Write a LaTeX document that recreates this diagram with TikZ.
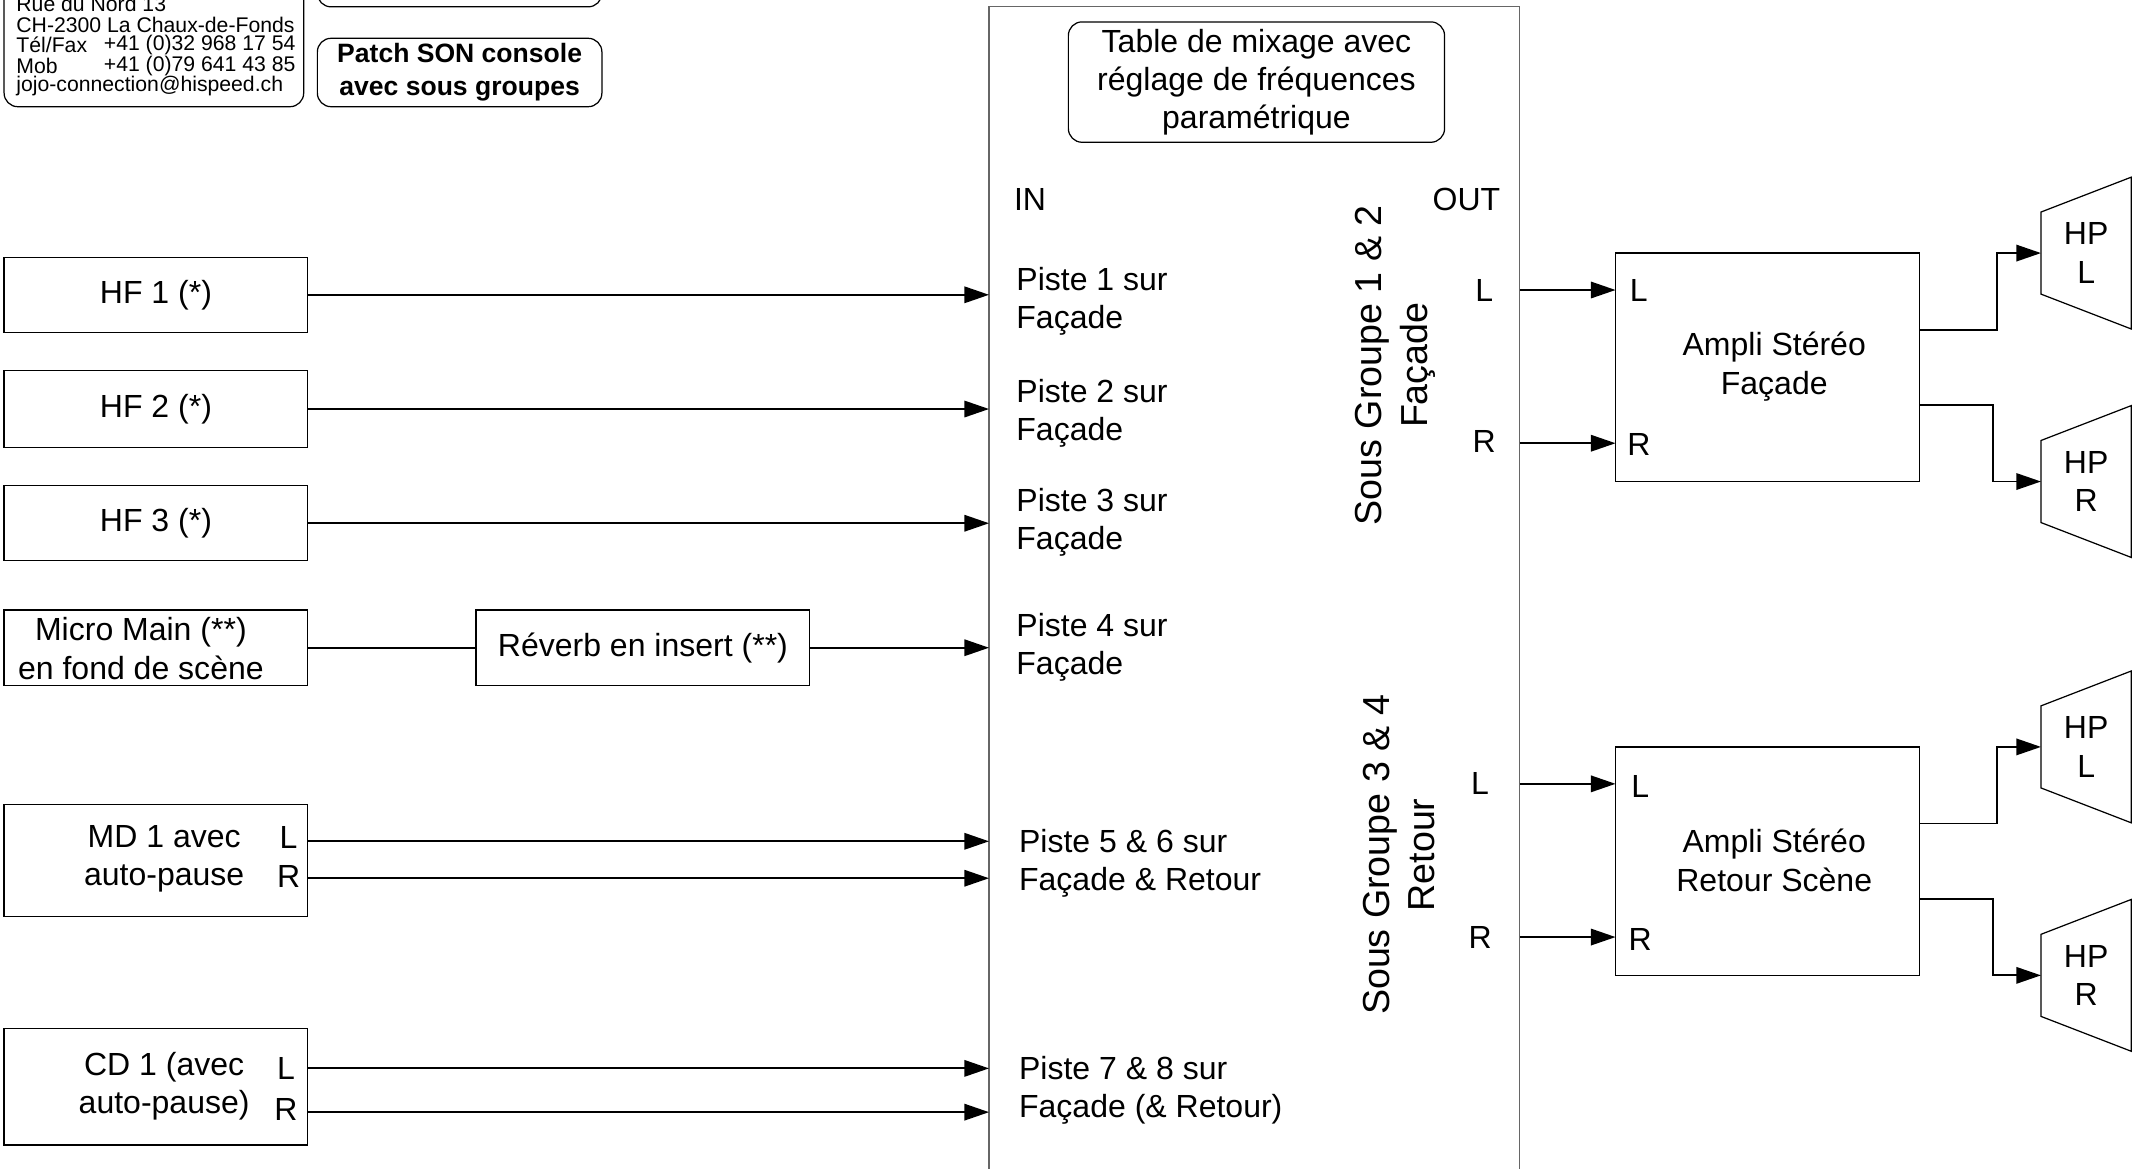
\documentclass[tikz,border=0pt]{standalone}
\usepackage{fontspec}
\setmainfont{Liberation Sans}
\usetikzlibrary{arrows.meta}
\begin{document}
\begin{tikzpicture}[x=1pt,y=-1pt,
  every node/.style={inner sep=0pt, outer sep=0pt},
  txt/.style={font=\fontsize{23.4}{28}\selectfont, align=center},
  ltxt/.style={font=\fontsize{23.4}{28}\selectfont, align=left, anchor=west},
  rtxt/.style={font=\fontsize{27.5}{33}\selectfont, align=center, rotate=90},
  small/.style={font=\fontsize{15.5}{15}\selectfont},
  srcbox/.style={draw, line width=0.9pt, minimum width=222pt},
  rbox/.style={draw, line width=0.9pt, rounded corners=10pt},
  ln/.style={line width=1.4pt},
  arr/.style={line width=1.4pt, -{Triangle[length=18pt,width=12pt]}},
  spk/.style={draw, line width=0.9pt}]
\useasboundingbox (0,0) rectangle (1560,854);
\clip (0,0) rectangle (1560,854);

% header boxes
\draw[rbox] (3,-60) rectangle (222,78);
\node[small, anchor=west] (a1) at (12,3) {Rue du Nord 13};
\node[small, anchor=west] (a2) at (12,18) {CH-2300 La Chaux-de-Fonds};
\node[small, anchor=west] (a3) at (12,33) {Tél/Fax};
\node[small, anchor=east] (a3b) at (216,33) {+41 (0)32 968 17 54};
\node[small, anchor=west] (a4) at (12,48) {Mob};
\node[small, anchor=east] (a4b) at (216,48) {+41 (0)79 641 43 85};
\node[small, anchor=west] (a5) at (12,63) {jojo-connection@hispeed.ch};
\draw[rbox] (232,-40) rectangle (440,5);
\node[rbox, minimum width=208pt, minimum height=50pt, font=\bfseries\fontsize{19.4}{24}\selectfont, align=center] (patch) at (336,53) {Patch SON console\\avec sous groupes};

% console
\draw[line width=0.9pt, draw=black!60] (723,5) rectangle (1111,900);
\coordinate (cin) at (723,0);
\coordinate (cout) at (1111,0);
\node[rbox, minimum width=275pt, minimum height=88pt, txt] (title) at (918.5,60) {Table de mixage avec\\réglage de fréquences\\paramétrique};
\node[txt] (in) at (753,146) {IN};
\node[txt] (out) at (1072,146) {OUT};
\node[ltxt] (p1) at (743,220) {Piste 1 sur\\Façade};
\node[ltxt] (p2) at (743,302) {Piste 2 sur\\Façade};
\node[ltxt] (p3) at (743,382) {Piste 3 sur\\Façade};
\node[ltxt] (p4) at (743,473) {Piste 4 sur\\Façade};
\node[ltxt] (p56) at (745,631) {Piste 5 \& 6 sur\\Façade \& Retour};
\node[ltxt] (p78) at (745,797) {Piste 7 \& 8 sur\\Façade (\& Retour)};
\node[rtxt] (sg12) at (1020,267) {Sous Groupe 1 \& 2\\Façade};
\node[rtxt] (sg34) at (1023,625) {Sous Groupe 3 \& 4\\Retour};
\node[txt] (oL1) at (1085,212) {L};
\node[txt] (oR1) at (1085,323) {R};
\node[txt] (oL2) at (1082,573) {L};
\node[txt] (oR2) at (1082,685) {R};

% sources
\node[srcbox, minimum height=55pt, txt] (hf1) at (114,215.5) {HF 1 (*)};
\node[srcbox, minimum height=56pt, txt] (hf2) at (114,299) {HF 2 (*)};
\node[srcbox, minimum height=55pt, txt] (hf3) at (114,382.5) {HF 3 (*)};
\node[srcbox, minimum height=55pt] (mic) at (114,473.5) {};
\node[txt] (mictxt) at (103,474) {Micro Main (**)\\en fond de scène};
\node[draw, line width=0.9pt, minimum width=244pt, minimum height=55pt, txt] (rev) at (470,473.5) {Réverb en insert (**)};
\node[srcbox, minimum height=82pt] (md) at (114,629) {};
\node[txt] (mdtxt) at (120,628) {MD 1 avec\\auto-pause};
\node[txt] (mdL) at (211,612) {L};
\node[txt] (mdR) at (211,641) {R};
\node[srcbox, minimum height=85pt] (cd) at (114,794.5) {};
\node[txt] (cdtxt) at (120,794) {CD 1 (avec\\auto-pause)};
\node[txt] (cdL) at (209,781) {L};
\node[txt] (cdR) at (209,811) {R};

\draw[arr] (hf1.east) -- (cin |- hf1.east);
\draw[arr] (hf2.east) -- (cin |- hf2.east);
\draw[arr] (hf3.east) -- (cin |- hf3.east);
\draw[ln] (mic.east) -- (rev.west);
\draw[arr] (rev.east) -- (cin |- rev.east);
\draw[arr] (md.east |- 0,615) -- (cin |- 0,615);
\draw[arr] (md.east |- 0,642) -- (cin |- 0,642);
\draw[arr] (cd.east |- 0,781) -- (cin |- 0,781);
\draw[arr] (cd.east |- 0,813) -- (cin |- 0,813);

% amplis
\node[draw, line width=0.9pt, minimum width=222pt, minimum height=167pt] (amp1) at (1292,268.5) {};
\node[txt] (amp1t) at (1297,268) {Ampli Stéréo\\Façade};
\node[txt] (a1L) at (1198,212) {L};
\node[txt] (a1R) at (1198,325) {R};
\node[draw, line width=0.9pt, minimum width=222pt, minimum height=167pt] (amp2) at (1292,629.5) {};
\node[txt] (amp2t) at (1297,629) {Ampli Stéréo\\Retour Scène};
\node[txt] (a2L) at (1199,575) {L};
\node[txt] (a2R) at (1199,687) {R};

\draw[arr] (cout |- 0,212) -- (amp1.west |- 0,212);
\draw[arr] (cout |- 0,324) -- (amp1.west |- 0,324);
\draw[arr] (cout |- 0,573) -- (amp2.west |- 0,573);
\draw[arr] (cout |- 0,685) -- (amp2.west |- 0,685);

% speakers
\foreach \n/\y/\lab in {s1/185/L, s2/352/R, s3/546/L, s4/713/R}{
  \draw[spk] (1492,\y-30) -- (1558,\y-55.5) -- (1558,\y+55.5) -- (1492,\y+30) -- cycle;
  \coordinate (\n) at (1492,\y);
  \node[txt] (\n t) at (1525,\y) {HP\\\lab};
}
\draw[arr] (amp1.east |- 0,241) -| (1460,185) -- (s1);
\draw[arr] (amp1.east |- 0,296) -| (1457,352) -- (s2);
\draw[arr] (amp2.east |- 0,602) -| (1460,546) -- (s3);
\draw[arr] (amp2.east |- 0,657) -| (1457,713) -- (s4);
\end{tikzpicture}
\end{document}
